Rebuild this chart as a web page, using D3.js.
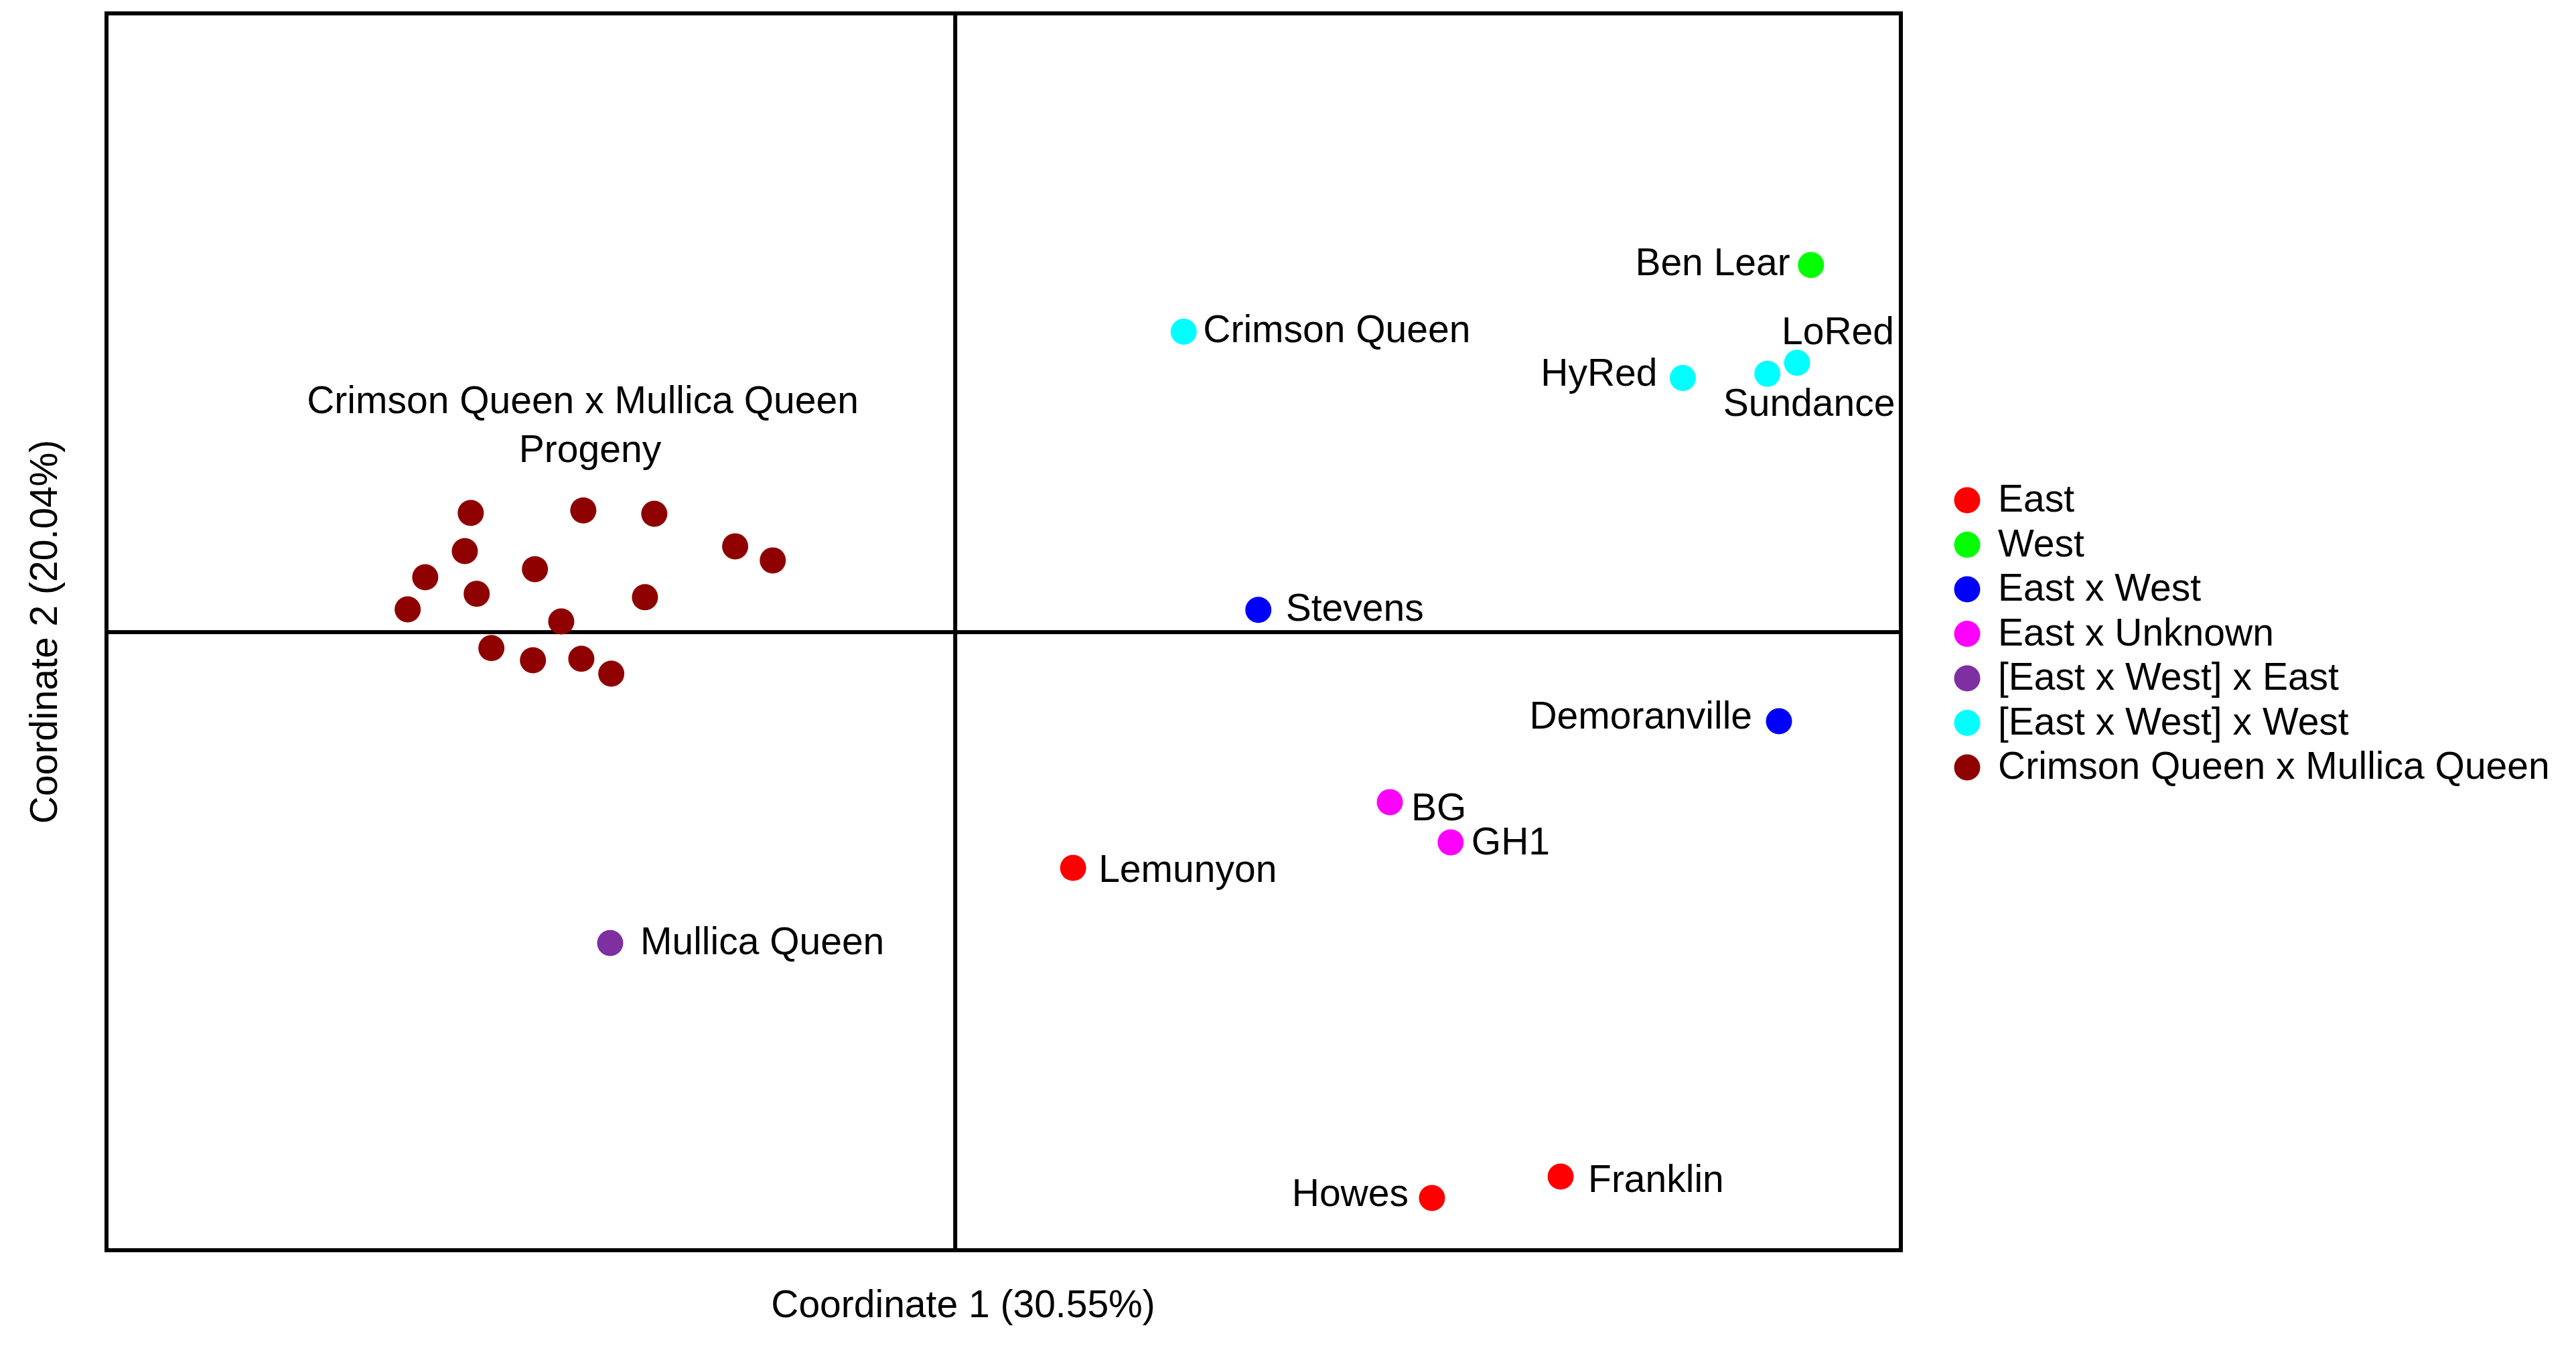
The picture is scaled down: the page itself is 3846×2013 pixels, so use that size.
<!DOCTYPE html>
<html>
<head>
<meta charset="utf-8">
<script src="https://cdn.jsdelivr.net/npm/d3@7"></script>
<style>
  body { margin: 0; background: #fff; }
  text { font-family: "Liberation Sans", Arial, sans-serif; fill: #000; }
</style>
</head>
<body>
<div id="chart"></div>
<script>
// groups shown in the legend
var groups = ["East", "West", "East x West", "East x Unknown",
  "[East x West] x East", "[East x West] x West", "Crimson Queen x Mullica Queen"];
var groupColors = ["#ff0000", "#00ff00", "#0000ff", "#ff00ff", "#7e2fa0", "#00ffff", "#8f0000"];

// named cultivars (coordinate 1, coordinate 2)
var cultivars = ["Ben Lear", "Crimson Queen", "LoRed", "Sundance", "HyRed", "Stevens",
  "Demoranville", "BG", "GH1", "Lemunyon", "Mullica Queen", "Howes", "Franklin"];
var cultivarGroup = ["West", "[East x West] x West", "[East x West] x West", "[East x West] x West",
  "[East x West] x West", "East x West", "East x West", "East x Unknown", "East x Unknown",
  "East", "[East x West] x East", "East", "East"];
var cultivarX = [0.3027, 0.0809, 0.2978, 0.2873, 0.2574, 0.1073, 0.2914, 0.1538, 0.1753, 0.0418, -0.1219, 0.1687, 0.2142];
var cultivarY = [0.1305, 0.1068, 0.0957, 0.0918, 0.0903, 0.0078, -0.0318, -0.0606, -0.0749, -0.0840, -0.1107, -0.2014, -0.1938];

// Crimson Queen x Mullica Queen progeny
var progenyX = [-0.1712, -0.1314, -0.1063, -0.1733, -0.0777, -0.0644, -0.1485, -0.1873,
  -0.1691, -0.1096, -0.1935, -0.1392, -0.1639, -0.1492, -0.1321, -0.1215];
var progenyY = [0.0423, 0.0432, 0.0420, 0.0287, 0.0304, 0.0254, 0.0223, 0.0194,
  0.0135, 0.0123, 0.0080, 0.0037, -0.0058, -0.0101, -0.0096, -0.0149];

var xTitle = "Coordinate 1 (30.55%)";
var yTitle = "Coordinate 2 (20.04%)";
var progenyTitle = ["Crimson Queen x Mullica Queen", "Progeny"];

// label placement next to each cultivar dot
var labelPos = {
  "Ben Lear": ["end", -31, 15],
  "Crimson Queen": ["start", 29, 16],
  "LoRed": ["start", -23, -28],
  "Sundance": ["start", -66, 63],
  "HyRed": ["end", -38, 12],
  "Stevens": ["start", 41, 16],
  "Demoranville": ["end", -40, 11],
  "BG": ["start", 32, 27],
  "GH1": ["start", 31, 18],
  "Lemunyon": ["start", 38, 21],
  "Mullica Queen": ["start", 45, 17],
  "Howes": ["end", -35, 12],
  "Franklin": ["start", 41, 23]
};

var svgWidth = 3846;
var svgHeight = 2013;
var fontSize = 57;
var dotR = 19.5;

var plot = { left: 159, right: 2838, top: 20, bottom: 1867 };

var svg = d3.select("#chart")
  .append("svg")
  .attr("width", svgWidth)
  .attr("height", svgHeight);

var x = d3.scaleLinear().domain([-0.300, 0.3345]).range([plot.left, plot.right]);
var y = d3.scaleLinear().domain([-0.22, 0.22]).range([plot.bottom, plot.top]);

var color = d3.scaleOrdinal().domain(groups).range(groupColors);

// frame
svg.append("rect")
  .attr("x", plot.left)
  .attr("y", plot.top)
  .attr("width", plot.right - plot.left)
  .attr("height", plot.bottom - plot.top)
  .attr("fill", "none")
  .attr("stroke", "#000")
  .attr("stroke-width", 6);

// zero lines drawn as tickless axes
var xZero = svg.append("g")
  .attr("transform", `translate(0, ${y(0)})`)
  .call(d3.axisBottom(x).tickValues([]).tickSizeOuter(0));
var yZero = svg.append("g")
  .attr("transform", `translate(${x(0)}, 0)`)
  .call(d3.axisLeft(y).tickValues([]).tickSizeOuter(0));
svg.selectAll(".domain").attr("stroke", "#000").attr("stroke-width", 6);

// progeny dots
var progeny = progenyX.map((v, i) => ({ x: v, y: progenyY[i] }));
svg.append("g").selectAll("circle")
  .data(progeny)
  .enter()
  .append("circle")
  .attr("cx", d => x(d.x))
  .attr("cy", d => y(d.y))
  .attr("r", dotR)
  .attr("fill", color("Crimson Queen x Mullica Queen"));

svg.append("text")
  .attr("font-size", fontSize)
  .attr("text-anchor", "middle")
  .selectAll("tspan")
  .data(progenyTitle)
  .enter()
  .append("tspan")
  .attr("x", (d, i) => i === 0 ? 870 : 881)
  .attr("y", (d, i) => 617 + i * 73)
  .text(d => d);

// cultivar dots and labels
var named = cultivars.map((n, i) => ({ name: n, group: cultivarGroup[i], x: cultivarX[i], y: cultivarY[i] }));
var cultGroup = svg.append("g");
cultGroup.selectAll("circle")
  .data(named)
  .enter()
  .append("circle")
  .attr("cx", d => x(d.x))
  .attr("cy", d => y(d.y))
  .attr("r", dotR)
  .attr("fill", d => color(d.group));

cultGroup.selectAll("text")
  .data(named)
  .enter()
  .append("text")
  .attr("x", d => x(d.x) + labelPos[d.name][1])
  .attr("y", d => y(d.y) + labelPos[d.name][2])
  .attr("text-anchor", d => labelPos[d.name][0])
  .attr("font-size", fontSize)
  .text(d => d.name);

// axis titles
svg.append("text")
  .attr("x", 1438)
  .attr("y", 1967)
  .attr("text-anchor", "middle")
  .attr("font-size", fontSize)
  .text(xTitle);

svg.append("text")
  .attr("transform", `translate(85, ${(plot.top + plot.bottom) / 2}) rotate(-90)`)
  .attr("text-anchor", "middle")
  .attr("font-size", fontSize)
  .text(yTitle);

// legend
var legend = svg.append("g").attr("transform", "translate(2937, 747)");
var rows = legend.selectAll("g")
  .data(groups)
  .enter()
  .append("g")
  .attr("transform", (d, i) => `translate(0, ${i * 66.5})`);
rows.append("circle")
  .attr("r", dotR)
  .attr("fill", d => color(d));
rows.append("text")
  .attr("x", 46)
  .attr("y", 17)
  .attr("font-size", fontSize)
  .text(d => d);
</script>
</body>
</html>
